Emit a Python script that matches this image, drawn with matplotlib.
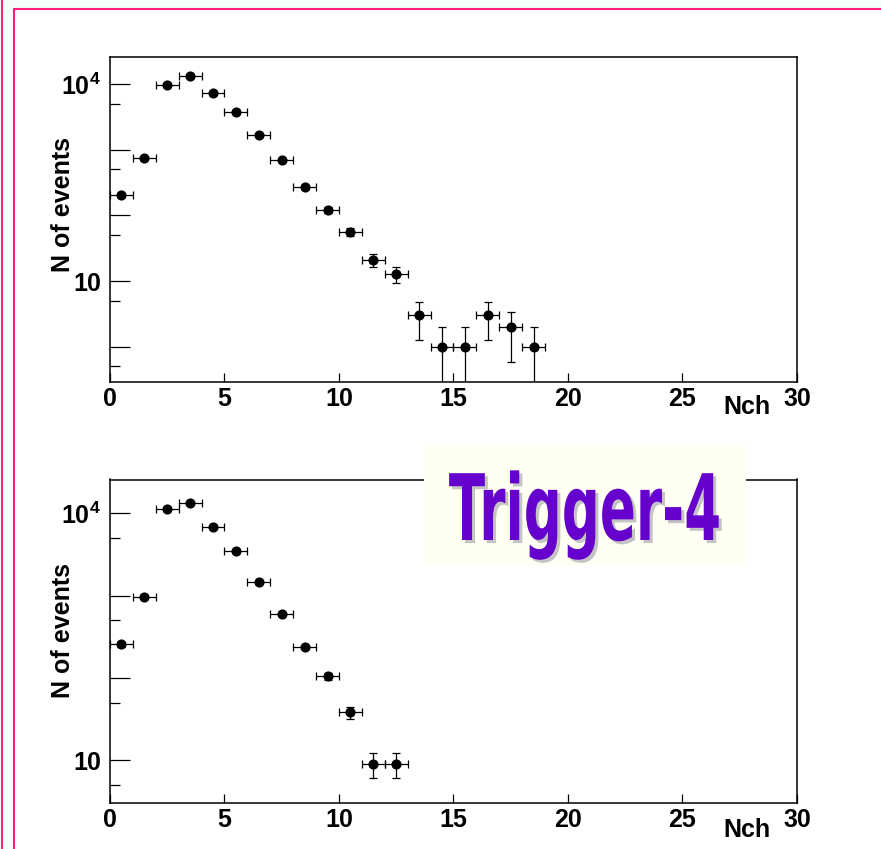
import numpy as np
import matplotlib
matplotlib.use("Agg")
import matplotlib.pyplot as plt
import matplotlib.patheffects as pe
import matplotlib.colors as mcolors
from matplotlib.patches import Rectangle
from matplotlib.lines import Line2D
from matplotlib.transforms import Affine2D
from matplotlib.ticker import FixedLocator, FuncFormatter, NullLocator

plt.rcParams["font.family"] = ["Liberation Sans", "DejaVu Sans"]
plt.rcParams["font.weight"] = "bold"
plt.rcParams["mathtext.fontset"] = "custom"
plt.rcParams["mathtext.rm"] = "Liberation Sans:bold"
plt.rcParams["mathtext.bf"] = "Liberation Sans:bold"
plt.rcParams["mathtext.it"] = "Liberation Sans:bold"

# multiplicity distributions, bin centres and counts
nch_all = [0.5, 1.5, 2.5, 3.5, 4.5, 5.5, 6.5, 7.5, 8.5, 9.5,
           10.5, 11.5, 12.5, 13.5, 14.5, 15.5, 16.5, 17.5, 18.5]
counts_all = [204, 748, 9800, 13200, 7380, 3750, 1690, 697, 270, 121,
              56, 21, 13, 3, 1, 1, 3, 2, 1]

nch_trig = [0.5, 1.5, 2.5, 3.5, 4.5, 5.5, 6.5, 7.5, 8.5, 9.5, 10.5, 11.5, 12.5]
counts_trig = [255, 960, 11200, 13500, 6810, 3450, 1450, 596, 237, 105, 38, 9, 9]

major_y = [1, 10, 100, 1000, 10000]
minor_y = [0.5, 5, 50, 500, 5000]
x_ticks = [0, 5, 10, 15, 20, 25, 30]

PINK = "#ff1f78"


class Squeeze(pe.AbstractPathEffect):
    """Narrow the glyphs around the text anchor, optionally shifted (for a shadow)."""

    def __init__(self, txt, sx, shift=(0, 0), color=None):
        super().__init__()
        self.txt = txt
        self.sx = sx
        self.shift = shift
        self.color = color

    def draw_path(self, renderer, gc, tpath, affine, rgbFace=None):
        cx, _ = self.txt.get_transform().transform(self.txt.get_position())
        px = renderer.points_to_pixels(1.0)
        sq = (Affine2D().translate(-cx, 0).scale(self.sx, 1)
              .translate(cx + self.shift[0] * px, -self.shift[1] * px))
        face = rgbFace if self.color is None else mcolors.to_rgba(self.color)
        gc0 = renderer.new_gc()
        gc0.copy_properties(gc)
        renderer.draw_path(gc0, tpath, affine + sq, face)
        gc0.restore()


def ylab(v, pos):
    if v == 10:
        return "10"
    if v == 10000:
        return r"$10^{4}$"
    return ""


def draw_panel(ax, x, n, ylo):
    n = np.array(n, dtype=float)
    ax.errorbar(x, n, xerr=0.5, yerr=np.sqrt(n), fmt="o", color="black",
                markersize=6.3, elinewidth=0.9, capsize=3.2, capthick=0.9)
    ax.set_yscale("log")
    ax.set_xlim(0, 30)
    ax.set_ylim(ylo, 25770)
    ax.yaxis.set_major_locator(FixedLocator(major_y))
    ax.yaxis.set_minor_locator(FixedLocator(minor_y))
    ax.yaxis.set_major_formatter(FuncFormatter(ylab))
    ax.yaxis.set_minor_formatter(FuncFormatter(lambda v, p: ""))
    ax.xaxis.set_major_locator(FixedLocator(x_ticks))
    ax.xaxis.set_minor_locator(NullLocator())
    ax.tick_params(axis="y", which="major", direction="in", length=14.4,
                   width=0.9, labelsize=18, pad=6.5)
    ax.tick_params(axis="y", which="minor", direction="in", length=7.2, width=0.9)
    ax.tick_params(axis="x", which="major", direction="in", length=6.5,
                   width=0.9, labelsize=18, pad=3.5)
    for s in ax.spines.values():
        s.set_linewidth(1.1)
    ax.set_xlabel("Nch", fontsize=18, fontweight="bold", va="center")
    ax.set_ylabel("N of events", fontsize=18, fontweight="bold", va="center")


fig = plt.figure(figsize=(8.81, 8.49), dpi=100, facecolor="mintcream")

# page frame
fig.add_artist(Rectangle((14 / 881, -0.02), 1.0, 1 - 9 / 849 + 0.02,
                         transform=fig.transFigure, facecolor="white",
                         edgecolor=PINK, linewidth=1.5, zorder=-10))
fig.add_artist(Line2D([1.5 / 881, 1.5 / 881], [0, 1], transform=fig.transFigure,
                      color=PINK, linewidth=1.5, zorder=-9))

ax1 = fig.add_axes([110 / 881, 1 - 382 / 849, 687 / 881, 325 / 849])
draw_panel(ax1, nch_all, counts_all, 0.29)
ax1.xaxis.set_label_coords(0.927, -25 / 325)
ax1.yaxis.set_label_coords(-47 / 687, (382 - 205) / 325)

ax2 = fig.add_axes([110 / 881, 1 - 803 / 849, 687 / 881, 323.5 / 849])
draw_panel(ax2, nch_trig, counts_trig, 3.0)
ax2.xaxis.set_label_coords(0.927, -27 / 323.5)
ax2.yaxis.set_label_coords(-47 / 687, (803 - 631) / 323.5)

# trigger label
fig.add_artist(Rectangle((424 / 881, 1 - 565 / 849), 322 / 881, 121 / 849,
                         transform=fig.transFigure, facecolor="#fffff3",
                         edgecolor="none", zorder=5))
t = fig.text(585 / 881, 1 - 540 / 849, "Trigger-4", ha="center", va="baseline",
             fontsize=66, fontweight="bold", family="DejaVu Sans",
             color="#6600cc", zorder=6)
t.set_path_effects([Squeeze(t, 0.58, shift=(2.2, 2.2), color="#c4c4c4"),
                    Squeeze(t, 0.58)])

fig.savefig("out.png", dpi=100, facecolor=fig.get_facecolor())
